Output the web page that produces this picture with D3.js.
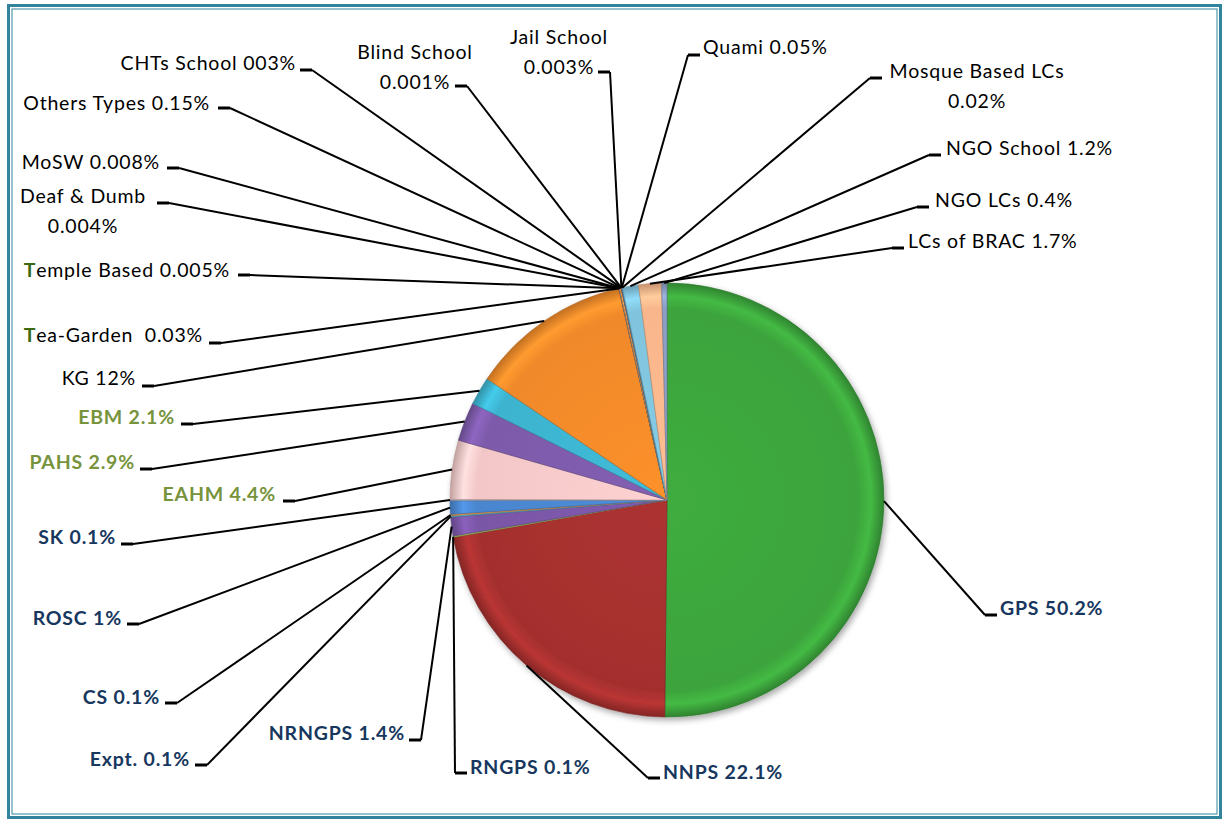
<!DOCTYPE html>
<html>
<head>
<meta charset="utf-8">
<script src="https://cdn.jsdelivr.net/npm/d3@7"></script>
<style>
  body { margin: 0; background: #fff; }
  svg text { font-family: Lato, "Open Sans", sans-serif; font-size: 19.5px; letter-spacing: 0.8px; white-space: pre; }
</style>
</head>
<body>
<div class="pie-chart"></div>
<script>
// slice order, clockwise from 12 o'clock
const categories = ["GPS", "NNPS", "RNGPS", "NRNGPS", "Expt.", "CS", "ROSC", "SK", "EAHM", "PAHS", "EBM", "KG",
  "Tea-Garden", "Temple Based", "Deaf & Dumb", "MoSW", "Others Types", "CHTs School", "Blind School", "Jail School",
  "Quami", "Mosque Based LCs", "NGO School", "LCs of BRAC", "NGO LCs"];
const shares = [50.2, 22.1, 0.1, 1.4, 0.1, 0.1, 1, 0.1, 4.4, 2.9, 2.1, 12,
  0.03, 0.005, 0.004, 0.008, 0.15, 0.003, 0.001, 0.003,
  0.05, 0.02, 1.2, 1.7, 0.4];
// label text as printed (one entry per line)
const labelTexts = [["GPS 50.2%"], ["NNPS 22.1%"], ["RNGPS 0.1%"], ["NRNGPS 1.4%"], ["Expt. 0.1%"], ["CS 0.1%"],
  ["ROSC 1%"], ["SK 0.1%"], ["EAHM 4.4%"], ["PAHS 2.9%"], ["EBM 2.1%"], ["KG 12%"],
  ["Tea-Garden  0.03%"], ["Temple Based 0.005%"], ["Deaf & Dumb", "0.004%"], ["MoSW 0.008%"], ["Others Types 0.15%"],
  ["CHTs School 003%"], ["Blind School", "0.001%"], ["Jail School", "0.003%"],
  ["Quami 0.05%"], ["Mosque Based LCs", "0.02%"], ["NGO School 1.2%"], ["LCs of BRAC 1.7%"], ["NGO LCs 0.4%"]];

const sliceColors = ["#3ca43c", "#a42f2e", "#9bbb59", "#7a56a6", "#4bacc6", "#f79646", "#4a86cf", "#9aa6c0",
  "#f3c7c7", "#7d5aaa", "#3db3cf", "#f0892a",
  "#c0504d", "#9bbb59", "#8064a2", "#4bacc6", "#f79646", "#4f81bd", "#c0504d", "#9bbb59",
  "#8064a2", "#4bacc6", "#80c3dc", "#f9b58b", "#8b9dc3"];
const navy = "#17375e", olive = "#77933c", black = "#000";
const labelColors = [navy, navy, navy, navy, navy, navy, navy, navy, olive, olive, olive, black,
  black, black, black, black, black, black, black, black, black, black, black, black, black];
const boldLabels = new Set(["GPS", "NNPS", "RNGPS", "NRNGPS", "Expt.", "CS", "ROSC", "SK", "EAHM", "PAHS", "EBM"]);
const greenInitial = new Set(["Tea-Garden", "Temple Based"]);

// hand placed labels: text x, first line centre y, anchor, segment start x, segment y, segment direction
const labelLayout = {
  "GPS": [1000, 608, "start", 997, 615, -1],
  "NNPS": [663, 772, "start", 660, 778, -1],
  "RNGPS": [470, 767, "start", 467, 773, -1],
  "NRNGPS": [405, 733, "end", 409, 740, 1],
  "Expt.": [190, 759, "end", 195, 765, 1],
  "CS": [160, 697, "end", 165, 703, 1],
  "ROSC": [122, 618, "end", 127, 624, 1],
  "SK": [116, 537, "end", 121, 544, 1],
  "EAHM": [276, 494, "end", 283, 501, 1],
  "PAHS": [135, 462, "end", 140, 469, 1],
  "EBM": [175, 417, "end", 181, 424, 1],
  "KG": [136, 378, "end", 142, 386, 1],
  "Tea-Garden": [203, 335, "end", 209, 343, 1],
  "Temple Based": [230, 270, "end", 238, 275, 1],
  "Deaf & Dumb": [83, 196, "middle", 157, 203, 1],
  "MoSW": [160, 162, "end", 167, 168, 1],
  "Others Types": [210, 103, "end", 218, 108, 1],
  "CHTs School": [296, 63, "end", 300, 70, 1],
  "Blind School": [415, 52, "middle", 455, 86, 1],
  "Jail School": [559, 37, "middle", 598, 72, 1],
  "Quami": [703, 47, "start", 700, 55, -1],
  "Mosque Based LCs": [977, 71, "middle", 882, 78, -1],
  "NGO School": [946, 148, "start", 941, 155, -1],
  "LCs of BRAC": [908, 241, "start", 904, 248, -1],
  "NGO LCs": [935, 200, "start", 929, 207, -1]
};

const width = 1225;
const height = 820;
const cx = 667, cy = 500, radius = 217;

const svg = d3.select('.pie-chart')
  .append('svg')
  .attr('width', width)
  .attr('height', height);

// double teal frame
svg.append('rect')
  .attr('x', 8.5).attr('y', 5.5)
  .attr('width', 1212).attr('height', 812)
  .attr('fill', 'none').attr('stroke', '#31849b').attr('stroke-width', 3);
svg.append('rect')
  .attr('x', 12).attr('y', 9)
  .attr('width', 1205).attr('height', 805)
  .attr('fill', 'none').attr('stroke', '#31849b').attr('stroke-width', 1);

const defs = svg.append('defs');
const shadow = defs.append('filter').attr('id', 'shadow')
  .attr('x', '-20%').attr('y', '-20%').attr('width', '140%').attr('height', '140%');
shadow.append('feDropShadow')
  .attr('dx', 2).attr('dy', 3).attr('stdDeviation', 3)
  .attr('flood-color', '#000').attr('flood-opacity', 0.35);

const data = categories.map((c, i) => ({ name: c, value: shares[i], color: sliceColors[i], i: i }));

data.forEach(d => {
  const g = defs.append('radialGradient')
    .attr('id', 'grad' + d.i)
    .attr('gradientUnits', 'userSpaceOnUse')
    .attr('cx', 0).attr('cy', 0).attr('r', radius);
  const base = d3.color(d.color);
  g.append('stop').attr('offset', '0%').attr('stop-color', base.brighter(0.15));
  g.append('stop').attr('offset', '88%').attr('stop-color', base);
  g.append('stop').attr('offset', '94%').attr('stop-color', base.brighter(0.35));
  g.append('stop').attr('offset', '100%').attr('stop-color', base.darker(0.6));
});

const pie = d3.pie().sort(null).value(d => d.value);
const arcs = pie(data);
const arc = d3.arc().innerRadius(0).outerRadius(radius);
const edge = d3.arc().innerRadius(radius).outerRadius(radius);

const chart = svg.append('g').attr('transform', `translate(${cx},${cy})`);

chart.append('g')
  .attr('filter', 'url(#shadow)')
  .selectAll('path')
  .data(arcs)
  .enter()
  .append('path')
  .attr('d', arc)
  .attr('fill', d => `url(#grad${d.data.i})`)
  .attr('stroke', d => d3.color(d.data.color).darker(0.8))
  .attr('stroke-width', 0.6);

// leader lines
const leaders = svg.append('g');
arcs.forEach(d => {
  const lay = labelLayout[d.data.name];
  const sx0 = lay[3], sy = lay[4], sx1 = lay[3] + lay[5] * 12;
  const p = edge.centroid(d);
  leaders.append('line')
    .attr('x1', sx0).attr('y1', sy).attr('x2', sx1).attr('y2', sy)
    .attr('stroke', '#000').attr('stroke-width', 3);
  leaders.append('line')
    .attr('x1', sx1).attr('y1', sy)
    .attr('x2', cx + p[0]).attr('y2', cy + p[1])
    .attr('stroke', '#000').attr('stroke-width', 2);
});

// labels
const labels = svg.append('g');
arcs.forEach(d => {
  const name = d.data.name;
  const lay = labelLayout[name];
  const lines = labelTexts[d.data.i];
  lines.forEach((line, k) => {
    const t = labels.append('text')
      .attr('x', lay[0])
      .attr('y', lay[1] + k * 30)
      .attr('dy', '0.35em')
      .attr('text-anchor', lay[2])
      .attr('fill', labelColors[d.data.i])
      .attr('font-weight', boldLabels.has(name) ? 'bold' : 'normal');
    if (k == 0 && greenInitial.has(name)) {
      t.append('tspan').attr('fill', '#3b6a10').attr('font-weight', 'bold').text(line[0]);
      t.append('tspan').text(line.slice(1));
    } else {
      t.text(line);
    }
  });
});
</script>
</body>
</html>
